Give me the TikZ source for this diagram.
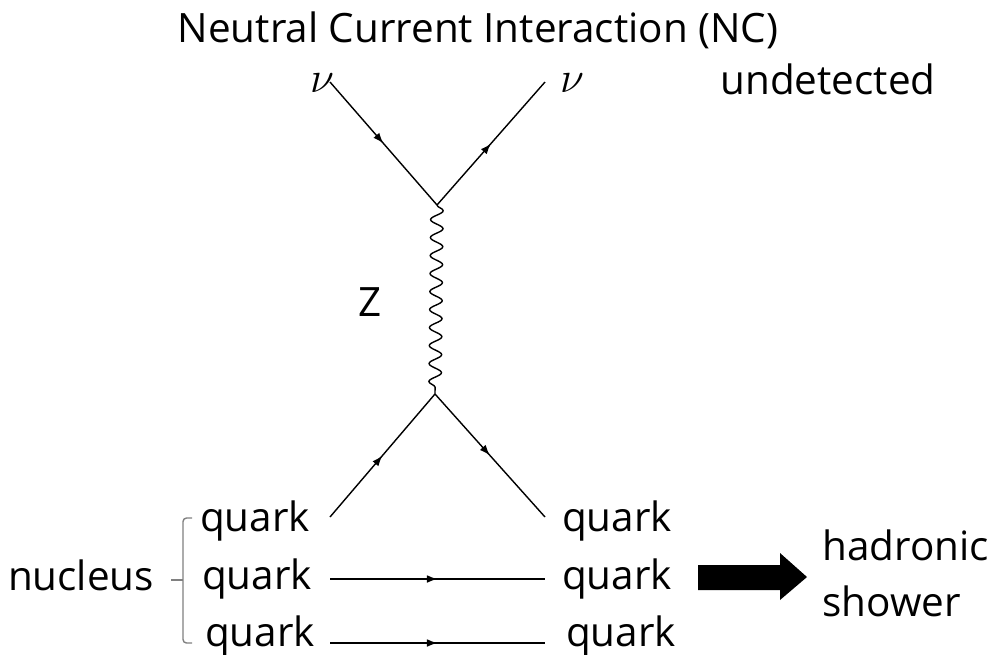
\documentclass[tikz,border=0pt]{standalone}
\usepackage{fontspec}
\setmainfont{Open Sans}
\usetikzlibrary{arrows.meta,decorations.pathmorphing,decorations.markings}

\begin{document}
\begin{tikzpicture}[x=0.2mm, y=-0.2mm,
  lbl/.style={font=\fontsize{23}{27}\selectfont, inner sep=0pt, text height=0.75em, text depth=0.25em},
  nulbl/.style={font=\fontsize{36}{38}\selectfont, inner sep=0pt},
  fermion/.style={line width=0.8pt, postaction={decorate},
    decoration={markings, mark=at position 0.5 with {\arrow{Latex[length=6pt,width=4.4pt]}}}},
  boson/.style={line width=0.8pt, decorate,
    decoration={snake, segment length=3.6mm, amplitude=1.25mm}},
  brace/.style={draw=gray, line width=0.8pt, rounded corners=2pt}]

\useasboundingbox (0,0) rectangle (997,654);

% title
\node[lbl] (title) at (478,38) {Neutral Current Interaction (NC)};

% neutrinos
\node[nulbl] (nuL) at (322,83) {$\nu$};
\node[nulbl] (nuR) at (572,83) {$\nu$};
\node[lbl] (undet) at (828,90) {undetected};

% vertices and line ends
\coordinate (top) at (437,205);
\coordinate (bot) at (435,394);
\coordinate (nuin) at (330,82);
\coordinate (nuout) at (545,82);
\coordinate (qin) at (330,517);
\coordinate (qout) at (545,517);
\coordinate (a2) at (330,579);
\coordinate (b2) at (545,579);
\coordinate (a3) at (330,643);
\coordinate (b3) at (545,643);

\draw[fermion] (nuin) -- (top);
\draw[fermion] (top) -- (nuout);
\draw[boson] (top) -- (bot);
\node[lbl] (zlbl) at (370,312) {Z};
\draw[fermion] (qin) -- (bot);
\draw[fermion] (bot) -- (qout);
\draw[fermion] (a2) -- (b2);
\draw[fermion] (a3) -- (b3);

% quarks
\node[lbl] (qL1) at (255,527) {quark};
\node[lbl] (qL2) at (257,585) {quark};
\node[lbl] (qL3) at (260,642) {quark};
\node[lbl] (qR1) at (617,527) {quark};
\node[lbl] (qR2) at (617,585) {quark};
\node[lbl] (qR3) at (621,642) {quark};

% nucleus bracket
\node[lbl] (nucl) at (81,586) {nucleus};
\draw[brace] (192,518) -- (183,518) -- (183,643) -- (192,643);
\draw[brace] (171,580) -- (183,580);

% hadronic shower
\fill (698,565) -- (780,565) -- (780,553) -- (807,577) -- (780,600) -- (780,590) -- (698,590) -- cycle;
\node[lbl, anchor=west] (hadr) at (822,556) {hadronic};
\node[lbl, anchor=west] (show) at (822,612) {shower};

\end{tikzpicture}
\end{document}
